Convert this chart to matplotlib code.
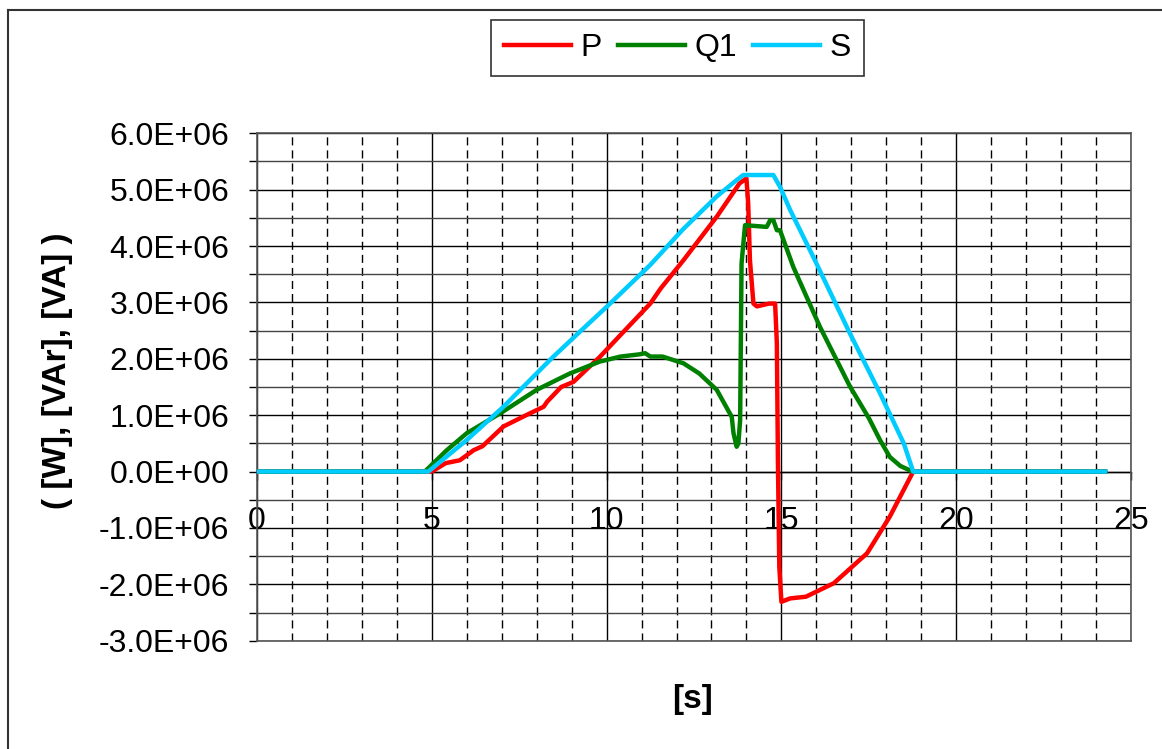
import numpy as np
import matplotlib.pyplot as plt
from matplotlib.lines import Line2D
from matplotlib.ticker import MultipleLocator, FormatStrFormatter

plt.rcParams["font.family"] = ["Liberation Sans", "DejaVu Sans"]

# tijd [s] en vermogens [MW]
t_p = [0, 5.0, 5.4, 5.8, 6.2, 6.45, 7.05, 7.6, 8.2, 8.3, 8.7, 9.05, 9.8, 10.5,
       11.25, 11.55, 12.2, 13.15, 13.8, 14.0, 14.05, 14.1, 14.2, 14.3, 14.65,
       14.82, 14.87, 14.9, 14.94, 15.0, 15.25, 15.7, 16.5, 17.45, 18.1, 18.77, 24.26]
p_mw = [0, 0, 0.15, 0.2, 0.38, 0.45, 0.8, 0.97, 1.15, 1.24, 1.5, 1.59, 2.03, 2.49,
        2.98, 3.25, 3.75, 4.52, 5.11, 5.2, 4.76, 3.75, 2.98, 2.93, 2.98,
        2.98, 2.28, 0.2, -1.69, -2.31, -2.25, -2.22, -1.98, -1.45, -0.8, 0, 0]

t_q = [0, 4.8, 5.43, 6.0, 6.95, 8.0, 8.95, 9.8, 10.4, 10.95, 11.1, 11.25, 11.6,
       12.2, 12.65, 13.15, 13.58, 13.63, 13.72, 13.77, 13.82, 13.86, 13.96, 14.58,
       14.68, 14.77, 14.87, 14.96, 15.34, 16.1, 16.96, 17.5, 17.82, 18.1, 18.4,
       18.68, 18.77, 24.26]
q_mw = [0, 0, 0.38, 0.68, 1.03, 1.45, 1.74, 1.95, 2.04, 2.08, 2.1, 2.04, 2.04,
        1.92, 1.74, 1.45, 0.97, 0.68, 0.44, 0.5, 0.92, 3.69, 4.37, 4.34,
        4.46, 4.46, 4.28, 4.28, 3.63, 2.57, 1.51, 0.95, 0.56, 0.26, 0.1,
        0.02, 0, 0]

t_s = [0, 4.9, 6.0, 7.05, 8.43, 9.2, 10.05, 11.24, 12.19, 13.15, 13.72, 13.91,
       14.77, 14.96, 15.25, 15.91, 16.96, 17.82, 18.5, 18.77, 24.26]
s_mw = [0, 0, 0.56, 1.15, 2.01, 2.46, 2.95, 3.66, 4.30, 4.88, 5.17, 5.26,
        5.26, 5.05, 4.64, 3.81, 2.45, 1.39, 0.5, 0, 0]

x_ticks = [0, 5, 10, 15, 20, 25]

fig = plt.figure(figsize=(11.62, 7.49), dpi=100)
ax = fig.add_axes([257 / 1162, 1 - 640.7 / 749, 874 / 1162, 507.4 / 749])

ax.plot(t_p, np.array(p_mw) * 1e6, color="#FF0000", lw=3.2, label="P", zorder=3)
ax.plot(t_q, np.array(q_mw) * 1e6, color="#008000", lw=3.2, label="Q1", zorder=3)
ax.plot(t_s, np.array(s_mw) * 1e6, color="#00CCFF", lw=3.2, label="S", zorder=3)

ax.set_xlim(0, 25)
ax.set_ylim(-3e6, 6e6)
ax.xaxis.set_major_locator(MultipleLocator(5))
ax.xaxis.set_minor_locator(MultipleLocator(1))
ax.yaxis.set_major_locator(MultipleLocator(1e6))
ax.yaxis.set_minor_locator(MultipleLocator(0.5e6))
ax.yaxis.set_major_formatter(FormatStrFormatter("%.1E"))

ax.grid(which="major", axis="both", color="black", lw=1)
ax.grid(which="minor", axis="y", color="#444444", lw=1)
ax.grid(which="minor", axis="x", color="black", lw=1, linestyle=(0, (5.8, 3.6)))
ax.set_axisbelow(True)

for sp in ax.spines.values():
    sp.set_color("#555555")
    sp.set_linewidth(1.2)

ax.tick_params(axis="y", which="both", direction="out", length=6, width=1,
               labelsize=23, pad=14)
ax.tick_params(axis="x", which="both", length=0, labelbottom=False)

# x-as snijdt bij y = 0
sec = ax.secondary_xaxis(1 / 3)
sec.set_xticks(x_ticks)
sec.tick_params(direction="out", length=6, width=1, labelsize=23, pad=19)
sec.spines["bottom"].set_color("black")
sec.spines["bottom"].set_linewidth(1)

ax.set_ylabel("( [W], [VAr], [VA] )", fontsize=24, fontweight="bold")
ax.yaxis.set_label_coords((73 - 257) / 874, (640.7 - 371) / 507.4)
ax.set_xlabel("[s]", fontsize=24, fontweight="bold")
ax.xaxis.set_label_coords((692 - 257) / 874, (640.7 - 684) / 507.4)

leg = ax.legend(loc="center", ncol=3, fontsize=23, frameon=True, fancybox=False,
                bbox_to_anchor=(677.5 / 1162, 1 - 48 / 749),
                bbox_transform=fig.transFigure, handlelength=2.1,
                handletextpad=0.3, columnspacing=0.5, borderpad=0.4)
leg.get_frame().set_edgecolor("black")
leg.get_frame().set_linewidth(1.2)

# rand rond de grafiek
x0, y0 = 8 / 1162, 1 - 10 / 749
fig.add_artist(Line2D([x0, x0], [0, y0], color="#333333", lw=1.5, transform=fig.transFigure))
fig.add_artist(Line2D([x0, 1], [y0, y0], color="#333333", lw=1.5, transform=fig.transFigure))

fig.savefig("out.png", dpi=100)
